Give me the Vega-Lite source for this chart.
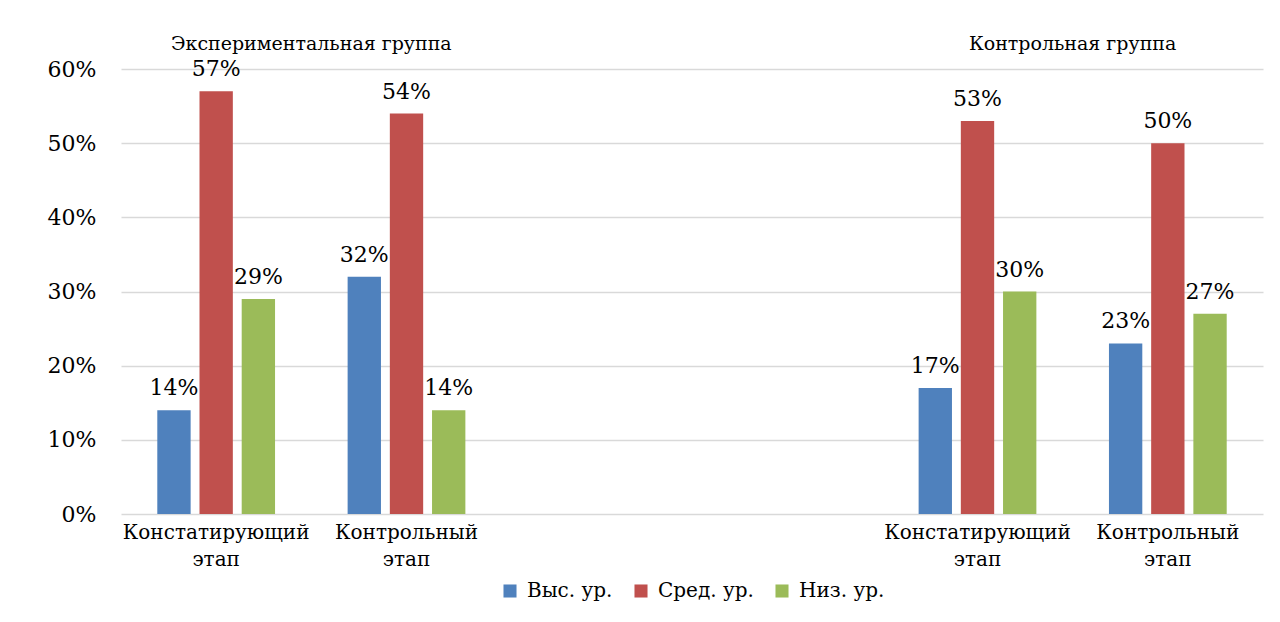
{
  "$schema": "https://vega.github.io/schema/vega-lite/v6.json",
  "width": 1142,
  "height": 445,
  "autosize": {"type": "none"},
  "padding": {"left": 121, "top": 69, "right": 17, "bottom": 108},
  "background": "white",
  "config": {
    "font": "DejaVu Serif",
    "view": {"stroke": null},
    "axis": {"labelFont": "DejaVu Serif"},
    "legend": {"labelFont": "DejaVu Serif", "layout": {"bottom": {"anchor": "middle"}}},
    "text": {"font": "DejaVu Serif"}
  },
  "data": {
    "values": [
      {"stage": "e1", "level": "Выс. ур.", "value": 0.14},
      {"stage": "e1", "level": "Сред. ур.", "value": 0.57},
      {"stage": "e1", "level": "Низ. ур.", "value": 0.29},
      {"stage": "e2", "level": "Выс. ур.", "value": 0.32},
      {"stage": "e2", "level": "Сред. ур.", "value": 0.54},
      {"stage": "e2", "level": "Низ. ур.", "value": 0.14},
      {"stage": "k1", "level": "Выс. ур.", "value": 0.17},
      {"stage": "k1", "level": "Сред. ур.", "value": 0.53},
      {"stage": "k1", "level": "Низ. ур.", "value": 0.30},
      {"stage": "k2", "level": "Выс. ур.", "value": 0.23},
      {"stage": "k2", "level": "Сред. ур.", "value": 0.50},
      {"stage": "k2", "level": "Низ. ур.", "value": 0.27}
    ]
  },
  "layer": [
    {
      "mark": {"type": "bar"},
      "encoding": {
        "x": {
          "field": "stage", "type": "nominal",
          "scale": {"domain": ["e1", "e2", "g1", "g2", "k1", "k2"], "paddingInner": 0, "paddingOuter": 0},
          "axis": {
            "title": null, "labelAngle": 0, "domain": false, "ticks": false,
            "labelFontSize": 20, "labelColor": "black", "labelBaseline": "alphabetic",
            "labelPadding": 24, "labelLineHeight": 27, "labelOverlap": false, "labelLimit": 300,
            "labelExpr": "datum.value == 'e1' || datum.value == 'k1' ? ['Констатирующий', 'этап'] : (datum.value == 'e2' || datum.value == 'k2' ? ['Контрольный', 'этап'] : '')"
          }
        },
        "xOffset": {
          "field": "level", "type": "nominal",
          "scale": {"domain": ["Выс. ур.", "Сред. ур.", "Низ. ур."], "paddingInner": 0.21, "paddingOuter": 0.86}
        },
        "y": {
          "field": "value", "type": "quantitative",
          "scale": {"domain": [0, 0.6], "nice": false},
          "axis": {
            "title": null, "values": [0, 0.1, 0.2, 0.3, 0.4, 0.5, 0.6], "format": ".0%",
            "labelFontSize": 22, "labelColor": "black", "labelPadding": 25,
            "ticks": false, "domain": false, "gridColor": "#d9d9d9", "gridWidth": 1.3
          }
        },
        "color": {
          "field": "level", "type": "nominal",
          "scale": {"domain": ["Выс. ур.", "Сред. ур.", "Низ. ур."], "range": ["#4F81BD", "#C0504D", "#9BBB59"]},
          "legend": {
            "title": null, "orient": "bottom", "direction": "horizontal",
            "symbolType": "square", "symbolSize": 170, "symbolStrokeWidth": 0,
            "labelFontSize": 20, "labelColor": "black", "labelOffset": 7,
            "columnPadding": 18, "offset": 12
          }
        }
      }
    },
    {
      "mark": {"type": "text", "dy": -15, "fontSize": 22, "baseline": "alphabetic", "color": "black"},
      "encoding": {
        "x": {"field": "stage", "type": "nominal"},
        "xOffset": {"field": "level", "type": "nominal"},
        "y": {"field": "value", "type": "quantitative"},
        "text": {"field": "value", "type": "quantitative", "format": ".0%"}
      }
    },
    {
      "data": {
        "values": [
          {"title": "Экспериментальная группа", "stage": "e1"},
          {"title": "Контрольная группа", "stage": "k1"}
        ]
      },
      "mark": {"type": "text", "fontSize": 19, "baseline": "alphabetic", "color": "black"},
      "encoding": {
        "x": {"field": "stage", "type": "nominal", "bandPosition": 1},
        "y": {"datum": 0.625, "type": "quantitative"},
        "text": {"field": "title"}
      }
    }
  ]
}
